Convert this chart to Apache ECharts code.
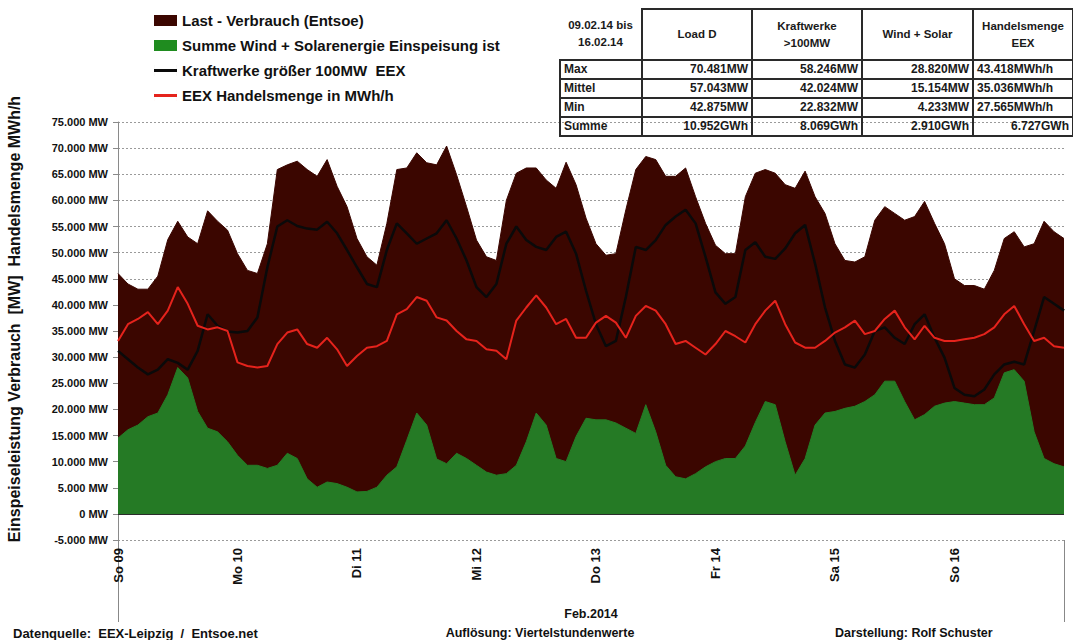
<!DOCTYPE html>
<html>
<head>
<meta charset="utf-8">
<script src="https://cdn.jsdelivr.net/npm/echarts@6/dist/echarts.min.js"></script>
<style>
  html, body { margin:0; padding:0; background:#fff; width:1073px; height:640px; overflow:hidden; }
  #chart { position:absolute; left:0; top:0; width:1073px; height:640px; }
  #tbl { position:absolute; left:559px; top:8px; width:514px; }
  #tbl table { width:513px; border-collapse:collapse; font-family:"Liberation Sans", Arial, sans-serif; font-weight:bold; font-size:12px; color:#1a1a1a; table-layout:fixed; }
  #tbl td { border:2px solid #2a2a2a; padding:0 3px; height:17px; line-height:15px; white-space:nowrap; overflow:hidden; }
  #tbl tr.h td { height:49px; text-align:center; font-size:11.5px; line-height:17px; }
  #tbl tr.h td.c0 { border-top:none; border-left:none; }
  #tbl td.num { text-align:right; }
</style>
</head>
<body>
<div id="chart"></div>
<div id="tbl"></div>
<script>
// ---- categories / tick labels ----
const dayLabels = ['So 09','Mo 10','Di 11','Mi 12','Do 13','Fr 14','Sa 15','So 16'];
const stepHours = 2; // values every 2 hours starting 09.02.2014 00:00
const monthLabel = 'Feb.2014';

// ---- series values (MW), every 2 hours ----
const loadD = [46000,44000,43000,43000,45500,52500,56000,53000,51700,58000,56000,54300,
  49800,46600,46000,51700,65900,66800,67500,65900,64600,67800,62700,58800,
  52700,49200,47600,55600,65900,66200,69100,67200,66800,70400,64900,58800,
  52400,49200,48500,60000,65200,66200,66200,63900,62300,67300,63000,56600,
  51700,49500,49800,58200,65900,68400,67800,64600,64600,66200,60700,55600,
  51400,49800,49800,60700,65200,65900,65200,63000,62300,65600,60700,57500,
  51700,48500,48200,49200,56200,58800,57500,56200,56900,59800,55600,51700,
  45000,43700,43700,43000,46600,52700,54000,51100,51700,56000,54000,52700];

const windSolar = [14500,16100,17000,18600,19300,22800,28000,26000,19600,16400,15700,13800,
  11200,9300,9300,8700,9300,11600,10600,6700,5100,6100,5800,5100,
  4200,4300,5100,7400,9000,14100,19300,17000,10500,9600,11600,10600,
  9300,8000,7400,7700,9300,13800,19300,17000,10600,10000,14800,18300,
  18000,18000,17400,16400,15400,20900,15700,9300,7100,6700,7700,9000,
  10000,10600,10600,13000,17500,21500,20900,13800,7400,10600,17000,19300,
  19600,20200,20600,21500,22800,25400,25400,21500,18000,19000,20600,21200,
  21500,21200,20900,20900,22200,27000,27600,25400,15700,10600,9600,9000];

const kraftwerke = [31200,29600,28000,26700,27600,29600,28900,27600,31200,38200,36000,34900,
  34700,35000,37600,47200,55000,56200,55100,54600,54400,55900,53700,50500,
  47200,44000,43400,50500,55600,53700,51700,52700,53700,56200,52700,48500,
  43400,41500,44000,51700,55000,52400,51100,50500,53000,54000,49800,42700,
  36300,32100,33100,41500,51100,50500,52400,55300,56900,58200,55600,49200,
  42400,40200,41500,50500,52000,49200,48800,50800,53700,55300,47900,39500,
  33100,28600,28000,30500,35000,35700,33700,32500,36300,38200,33700,29900,
  24100,22800,22500,23800,26700,28600,29100,28600,35000,41500,40200,38900];

const eexMenge = [33100,36300,37300,38600,36300,38900,43400,40200,36000,35300,35700,35000,
  29000,28300,28000,28300,32500,34700,35300,32500,31800,33700,31500,28300,
  30200,31800,32100,33100,38200,39200,41500,40800,37600,37000,35000,33400,
  33100,31500,31200,29600,37000,39500,41800,39500,36300,37300,33700,33700,
  36600,37900,36600,33700,37900,39800,38900,36300,32500,33100,31800,30500,
  32500,35000,34000,32800,36300,38900,40800,36300,32800,31800,31800,33100,
  34700,35700,37000,34400,35000,37300,38900,35700,33400,36000,33700,33100,
  33100,33400,33700,34400,35700,38200,39800,36300,33100,33700,32100,31800];

// ---- names ----
const seriesNames = ['Last - Verbrauch (Entsoe)', 'Summe Wind + Solarenergie Einspeisung ist',
  'Kraftwerke größer 100MW  EEX', 'EEX Handelsmenge in MWh/h'];

// ---- table ----
const tableHeader = ['09.02.14 bis<br>16.02.14', 'Load D', 'Kraftwerke<br>&gt;100MW', 'Wind + Solar', 'Handelsmenge<br>EEX'];
const tableRowLabels = ['Max', 'Mittel', 'Min', 'Summe'];
const tableLoad = ['70.481MW', '57.043MW', '42.875MW', '10.952GWh'];
const tableKraft = ['58.246MW', '42.024MW', '22.832MW', '8.069GWh'];
const tableWind = ['28.820MW', '15.154MW', '4.233MW', '2.910GWh'];
const tableEex = ['43.418MWh/h', '35.036MWh/h', '27.565MWh/h', '6.727GWh'];

// ---- footer ----
const footerLeft = 'Datenquelle:  EEX-Leipzig  /  Entsoe.net';
const footerMid = 'Auflösung: Viertelstundenwerte';
const footerRight = 'Darstellung: Rolf Schuster';
const yTitle = 'Einspeiseleistung Verbrauch  [MW]  Handelsmenge MWh/h';

// build table
(function(){
  const colW = [82, 110, 110, 111, 100];
  let h = '<table><colgroup>' + colW.map(w => '<col style="width:' + w + 'px">').join('') + '</colgroup>';
  h += '<tr class="h">' + tableHeader.map((t, i) => '<td class="' + (i === 0 ? 'c0' : '') + '">' + t + '</td>').join('') + '</tr>';
  tableRowLabels.forEach((lab, r) => {
    h += '<tr><td>' + lab + '</td><td class="num">' + tableLoad[r] + '</td><td class="num">' + tableKraft[r] +
      '</td><td class="num">' + tableWind[r] + '</td><td class="num" style="text-align:' + (r === 3 ? 'right' : 'left') + '">' + tableEex[r] + '</td></tr>';
  });
  h += '</table>';
  document.getElementById('tbl').innerHTML = h;
})();

const toPairs = arr => arr.map((v, i) => [i * stepHours, v]);
const lastHour = (loadD.length - 1) * stepHours;
const FONT = '"Liberation Sans", Arial, sans-serif';
const lineIcon = 'path://M0,4 H23 V7 H0 Z M0,0 H0.02 V11 H0 Z M22.98,0 H23 V11 H22.98 Z';

function fmtMW(v) {
  const s = Math.abs(v).toString().replace(/\B(?=(\d{3})+(?!\d))/g, '.');
  return (v < 0 ? '-' : '') + s + ' MW';
}

const chart = echarts.init(document.getElementById('chart'), null, { renderer: 'svg' });
chart.setOption({
  animation: false,
  backgroundColor: '#fff',
  textStyle: { fontFamily: FONT },
  grid: { left: 118, right: 9, top: 122, bottom: 100 },
  legend: {
    orient: 'vertical', left: 149, top: 7,
    itemWidth: 23, itemHeight: 11, itemGap: 8,
    textStyle: { fontSize: 15, fontWeight: 'bold', color: '#111', fontFamily: FONT, lineHeight: 17 },
    data: [
      { name: seriesNames[0], icon: 'rect' },
      { name: seriesNames[1], icon: 'rect' },
      { name: seriesNames[2], icon: lineIcon },
      { name: seriesNames[3], icon: lineIcon }
    ]
  },
  xAxis: [{
    type: 'value', min: 0, max: lastHour, interval: 24,
    name: monthLabel, nameLocation: 'middle', nameGap: 67,
    nameTextStyle: { fontSize: 12.5, fontWeight: 'bold', color: '#111', fontFamily: FONT },
    axisLine: { show: false }, axisTick: { show: false }, splitLine: { show: false },
    axisLabel: {
      rotate: 90, margin: 8, fontSize: 13, fontWeight: 'bold', color: '#111', fontFamily: FONT,
      formatter: v => dayLabels[Math.round(v / 24)] || ''
    }
  }, {
    type: 'value', min: 0, max: lastHour, interval: lastHour, position: 'bottom',
    axisLine: { show: false }, axisLabel: { show: false }, splitLine: { show: false },
    axisTick: { show: true, length: 82, lineStyle: { color: '#888', width: 1 } }
  }],
  yAxis: {
    type: 'value', min: -5000, max: 75000, interval: 5000,
    axisLine: { show: true, lineStyle: { color: '#8a8a8a', width: 1 } },
    axisTick: { show: true, length: 5, lineStyle: { color: '#8a8a8a' } },
    splitLine: { show: true, lineStyle: { color: '#9a9a9a', type: [2, 2], width: 1 } },
    axisLabel: { margin: 10, fontSize: 11, fontWeight: 'bold', color: '#111', fontFamily: FONT, formatter: fmtMW }
  },
  graphic: [
    { type: 'text', x: 14, y: 319, rotation: Math.PI / 2,
      style: { text: yTitle, fontSize: 16, fontWeight: 'bold', fill: '#111', fontFamily: FONT, align: 'center', verticalAlign: 'middle' } },
    { type: 'text', x: 13, y: 633,
      style: { text: footerLeft, fontSize: 13, fontWeight: 'bold', fill: '#111', fontFamily: FONT, align: 'left', verticalAlign: 'middle' } },
    { type: 'text', x: 540, y: 633,
      style: { text: footerMid, fontSize: 12.5, fontWeight: 'bold', fill: '#111', fontFamily: FONT, align: 'center', verticalAlign: 'middle' } },
    { type: 'text', x: 835, y: 633,
      style: { text: footerRight, fontSize: 12.5, fontWeight: 'bold', fill: '#111', fontFamily: FONT, align: 'left', verticalAlign: 'middle' } }
  ],
  series: [
    { name: seriesNames[0], type: 'line', data: toPairs(loadD), showSymbol: false, symbol: 'none',
      lineStyle: { color: '#3b0600', width: 1 }, itemStyle: { color: '#3b0600' },
      areaStyle: { color: '#3b0600', opacity: 1 } },
    { name: seriesNames[1], type: 'line', data: toPairs(windSolar), showSymbol: false, symbol: 'none',
      lineStyle: { color: '#257a25', width: 1 }, itemStyle: { color: '#1f8c1f' },
      areaStyle: { color: '#257a25', opacity: 1 },
      markLine: { silent: true, symbol: 'none', label: { show: false },
        lineStyle: { color: '#2b2b2b', type: 'solid', width: 1 }, data: [{ yAxis: 0 }] } },
    { name: seriesNames[2], type: 'line', data: toPairs(kraftwerke), showSymbol: false, symbol: 'none',
      lineStyle: { color: '#0a0a0a', width: 2.5 }, itemStyle: { color: '#0a0a0a' } },
    { name: seriesNames[3], type: 'line', data: toPairs(eexMenge), showSymbol: false, symbol: 'none',
      lineStyle: { color: '#e5231c', width: 2 }, itemStyle: { color: '#e5231c' } }
  ]
});
</script>
</body>
</html>
